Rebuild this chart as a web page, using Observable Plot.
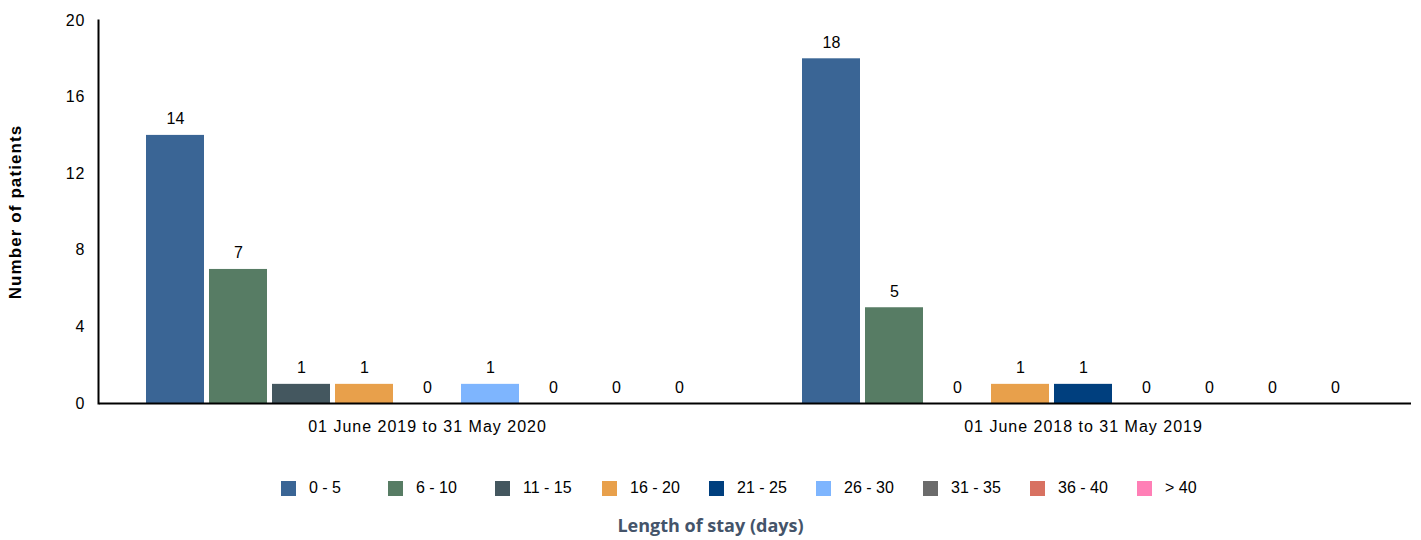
<!DOCTYPE html>
<html><head><meta charset="utf-8">
<script src="https://cdn.jsdelivr.net/npm/d3@7"></script>
<script src="https://cdn.jsdelivr.net/npm/@observablehq/plot@0.6"></script>
<style>
body{margin:0;background:#fff;font-family:"Liberation Sans",Arial,sans-serif;}
#chart svg g[aria-label^="y-axis tick label"] text,
#chart svg g[aria-label^="fx-axis tick label"] text{letter-spacing:1px;}
#chart svg g[aria-label="y-axis label"] text{font-weight:bold;font-size:17px;letter-spacing:1.1px;}
#legend{display:flex;padding-left:281px;margin-top:30px;height:16px;align-items:center;}
.item{width:107px;display:flex;align-items:center;font-size:16px;color:#000;flex:none;}
.sw{width:15px;height:15px;margin-right:13px;flex:none;}
#title{text-align:center;font-family:"Open Sans",sans-serif;font-weight:bold;font-size:18px;color:#44546a;margin-top:17px;width:1421px;}
</style></head><body>
<div id="chart"></div>
<div id="legend"></div>
<div id="title">Length of stay (days)</div>
<script>
const periods = ["01 June 2019 to 31 May 2020", "01 June 2018 to 31 May 2019"];
const categories = ["0 - 5","6 - 10","11 - 15","16 - 20","21 - 25","26 - 30","31 - 35","36 - 40","> 40"];
const colors = ["#3a6595","#577c64","#44575f","#e8a04b","#003f7e","#7eb5fe","#6b6b6b","#d87161","#ff7fb6"];
const values2019 = [14,7,1,1,0,1,0,0,0];
const values2018 = [18,5,0,1,1,0,0,0,0];
const yTicks = [0,4,8,12,16,20];

const data = [];
categories.forEach((c,i)=>data.push({period:periods[0],cat:c,value:values2019[i]}));
categories.forEach((c,i)=>data.push({period:periods[1],cat:c,value:values2018[i]}));

const chart = Plot.plot({
  width:1421, height:450,
  marginLeft:99, marginRight:10, marginTop:20, marginBottom:47,
  style:{fontFamily:"'Liberation Sans', Arial, sans-serif", fontSize:"16px", color:"#000", background:"#fff"},
  fx:{domain:periods, padding:0, label:null, axis:"bottom", tickSize:0, tickPadding:17},
  x:{domain:categories, axis:null, paddingInner:0.08, paddingOuter:0.72},
  y:{domain:[0,20], ticks:yTicks, tickSize:0, tickPadding:14, label:"Number of patients", labelArrow:"none", labelAnchor:"center", labelOffset:91},
  color:{domain:categories, range:colors},
  marks:[
    Plot.barY(data,{fx:"period", x:"cat", y:"value", fill:"cat"}),
    Plot.text(data,{fx:"period", x:"cat", y:"value", text:d=>String(d.value), lineAnchor:"bottom", dy:-11, fontSize:16}),
    Plot.ruleY([0],{stroke:"#000", strokeWidth:2}),
    Plot.frame({anchor:"left", facetAnchor:"left", stroke:"#000", strokeWidth:2, dx:-1})
  ]
});
document.getElementById("chart").appendChild(chart);

const legend = document.getElementById("legend");
categories.forEach((c,i)=>{
  const it = document.createElement("div"); it.className="item";
  const sw = document.createElement("div"); sw.className="sw"; sw.style.background=colors[i];
  const tx = document.createElement("span"); tx.textContent=c;
  it.appendChild(sw); it.appendChild(tx); legend.appendChild(it);
});
</script>
</body></html>
